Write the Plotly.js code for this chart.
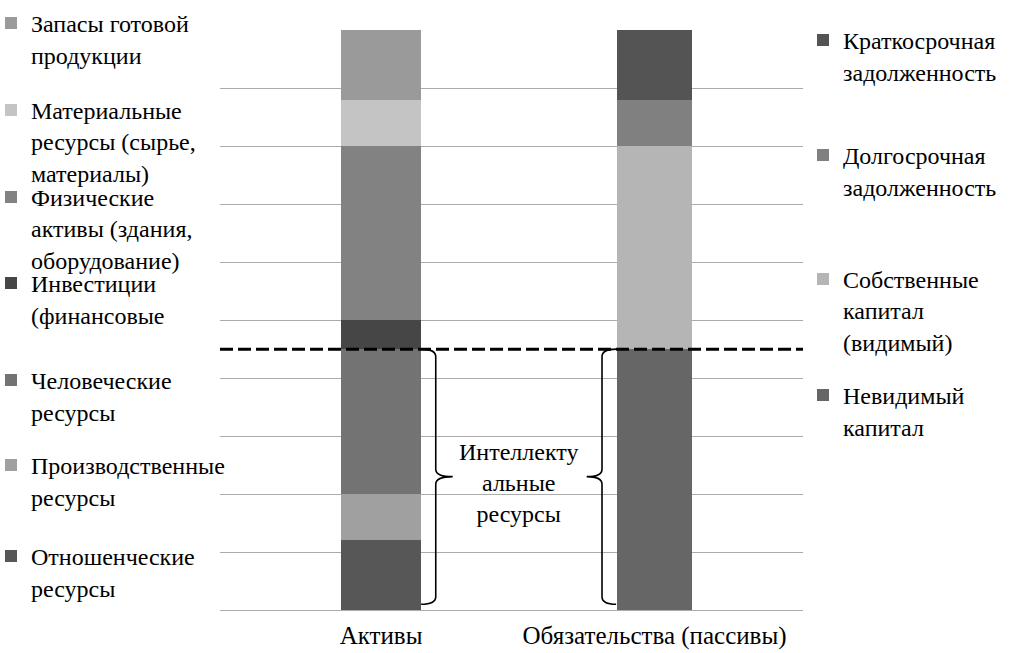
<!DOCTYPE html>
<html>
<head>
<meta charset="utf-8">
<script src="https://cdn.plot.ly/plotly-3.0.1.min.js"></script>
<style>html,body{margin:0;padding:0;background:#fff;}</style>
</head>
<body>
<div id="chart" style="width:1009px;height:653px;"></div>
<script>
// ---- data ----
const categories = ['Активы', 'Обязательства (пассивы)'];

// asset segments, bottom to top
const assetNames = [
  'Отношенческие<br>ресурсы',
  'Производственные<br>ресурсы',
  'Человеческие<br>ресурсы',
  'Инвестиции<br>(финансовые',
  'Физические<br>активы (здания,<br>оборудование)',
  'Материальные<br>ресурсы (сырье,<br>материалы)',
  'Запасы готовой<br>продукции'
];
const assetValues = [12, 8, 25, 5, 30, 8, 12];

// liability segments, bottom to top
const liabNames = [
  'Невидимый<br>капитал',
  'Собственные<br>капитал<br>(видимый)',
  'Долгосрочная<br>задолженность',
  'Краткосрочная<br>задолженность'
];
const liabValues = [45, 35, 8, 12];

const intellectualCount = 3; // bottom three asset segments
const intellectualLabel = 'Интеллекту<br>альные<br>ресурсы';

// ---- styles ----
const assetColors = ['#575757', '#a0a0a0', '#737373', '#464646', '#828282', '#c4c4c4', '#9a9a9a'];
const liabColors = ['#666666', '#b5b5b5', '#808080', '#545454'];
const FONT = 'Liberation Serif';

const W = 1009, H = 653;
const M = {l: 220, r: 206, t: 30, b: 43, autoexpand: false};
const plotH = H - M.t - M.b;
const plotW = W - M.l - M.r;
const paperY = py => (H - M.b - py) / plotH;
const paperX = px => (px - M.l) / plotW;

// legend first-line centres (px) and text start (px)
const assetLegendY = [558, 467, 382, 285, 200, 113, 25];
const liabLegendY = [397, 282, 157, 42];
const leftTextX = 31, rightTextX = 843;
const legendFont = 24;
const legendTopOffset = 23;
const refLineGap = 29;

const traces = [];
const layout = {
  width: W, height: H,
  margin: M,
  paper_bgcolor: '#fff', plot_bgcolor: '#fff',
  barmode: 'stack',
  bargap: 0,
  showlegend: true,
  xaxis: {
    range: [-0.589, 1.543],
    tickvals: [0, 1], ticktext: categories,
    showgrid: false, zeroline: false, showline: false,
    ticks: '', ticklabelstandoff: 8,
    tickfont: {family: FONT, size: 25, color: '#000'},
    fixedrange: true
  },
  yaxis: {
    range: [0, 100.05], dtick: 10, tick0: 0,
    showticklabels: false, ticks: '',
    showgrid: true, gridcolor: '#ababab', gridwidth: 1,
    zeroline: true, zerolinecolor: '#ababab', zerolinewidth: 1,
    showline: false, fixedrange: true
  },
  shapes: [],
  annotations: []
};

let legendIdx = 1;
function addTrace(name, value, x, color, width, cy, textX) {
  const lg = legendIdx === 1 ? 'legend' : 'legend' + legendIdx;
  traces.push({
    type: 'bar', x: [x], y: [value], name: name,
    marker: {color: color, line: {width: 0}},
    width: width, legend: lg, hoverinfo: 'name+y'
  });
  const lines = name.split('<br>').length;
  const adj = (lines - 1) * (legendFont * 1.3 - refLineGap) / 2;
  layout[lg] = {
    x: paperX(textX - 40), xanchor: 'left',
    y: paperY(cy - adj - legendTopOffset), yanchor: 'top',
    bgcolor: 'rgba(0,0,0,0)', borderwidth: 0,
    valign: 'top',
    font: {family: FONT, size: legendFont, color: '#000'}
  };
  legendIdx++;
}

const assetW = 0.291, liabW = 0.273;
assetNames.forEach((n, i) => addTrace(n, assetValues[i], 0, assetColors[i], assetW, assetLegendY[i], leftTextX));
liabNames.forEach((n, i) => addTrace(n, liabValues[i], 1, liabColors[i], liabW, liabLegendY[i], rightTextX));

// intellectual resources boundary
const intellTop = assetValues.slice(0, intellectualCount).reduce((a, b) => a + b, 0);
const bot = 1, ym = (intellTop + bot) / 2, r = 1.3;

layout.shapes.push({
  type: 'line', xref: 'paper', yref: 'y', x0: 0, x1: 1, y0: intellTop, y1: intellTop,
  line: {color: '#000', width: 3, dash: '13px,5px'}
});

function brace(xe, xv, xt) {
  return `M${xe},${intellTop} Q${xv},${intellTop} ${xv},${intellTop - r} ` +
         `L${xv},${ym + r} Q${xv},${ym} ${xt},${ym} Q${xv},${ym} ${xv},${ym - r} ` +
         `L${xv},${bot + r} Q${xv},${bot} ${xe},${bot}`;
}
// right of assets: "}"
layout.shapes.push({type: 'path', xref: 'x', yref: 'y',
  path: brace(assetW / 2 + 0.001, 0.2, 0.262), line: {color: '#000', width: 1.6}});
// left of liabilities: "{"
layout.shapes.push({type: 'path', xref: 'x', yref: 'y',
  path: brace(1 - liabW / 2 - 0.004, 0.808, 0.752), line: {color: '#000', width: 1.6}});

layout.annotations.push({
  x: 0.504, y: ym, xref: 'x', yref: 'y', yshift: -6,
  text: intellectualLabel, showarrow: false,
  xanchor: 'center', yanchor: 'middle', align: 'center',
  font: {family: FONT, size: 24, color: '#000'}
});

Plotly.newPlot('chart', traces, layout, {displayModeBar: false, staticPlot: true});
</script>
</body>
</html>
